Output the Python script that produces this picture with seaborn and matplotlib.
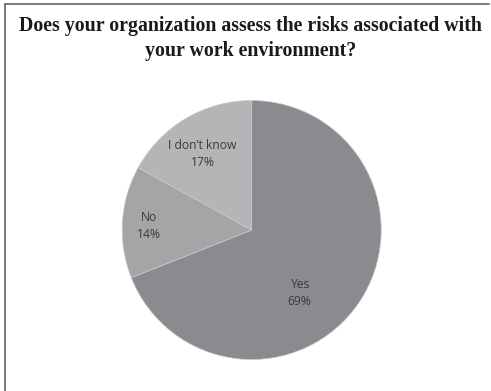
import matplotlib
matplotlib.use("Agg")
import matplotlib.pyplot as plt
from matplotlib.lines import Line2D
import seaborn as sns

sns.set_theme(style="white")

# Survey responses
categories = ["Yes", "No", "I don\u2019t know"]
shares = [69, 14, 17]
slice_colors = ["#8a8b8f", "#a5a5a8", "#b5b5b7"]

# Label anchor points inside the pie (axes data units)
label_xy = [(0.37, -0.49), (-0.79, 0.03), (-0.38, 0.59)]

W, H = 491, 391
fig = plt.figure(figsize=(W / 100, H / 100), dpi=100)
fig.patch.set_facecolor("white")

cx, cy, r = 251.7, 230.0, 129.5
ax = fig.add_axes([(cx - r) / W, (H - cy - r) / H, 2 * r / W, 2 * r / H])
wedges, _ = ax.pie(shares, colors=slice_colors, startangle=90, counterclock=False,
                   radius=1.0, wedgeprops=dict(edgecolor="#c8c8ca", linewidth=0.5))
ax.set_xlim(-1, 1)
ax.set_ylim(-1, 1)
ax.set_aspect("equal")
ax.axis("off")

for name, val, (x, y) in zip(categories, shares, label_xy):
    ax.text(x, y, f"{name}\n{val}%", ha="center", va="center", fontsize=8.7,
            family="Open Sans", color="#3a3a3a", linespacing=1.4)

fig.text(0.511, 1 - 38.5 / H, "Does your organization assess the risks associated with\nyour work environment?",
         ha="center", va="center", fontsize=14.3, fontweight="bold",
         family="Liberation Serif", color="#1a1a1a", linespacing=1.27)

# Frame lines along the top and left edges
fig.add_artist(Line2D([5 / W, 489 / W], [1 - 4 / H, 1 - 4 / H], color="#6e6e6e", linewidth=1.3,
                      transform=fig.transFigure))
fig.add_artist(Line2D([5 / W, 5 / W], [1 - 4 / H, 0], color="#6e6e6e", linewidth=1.3,
                      transform=fig.transFigure))

fig.savefig("out.png", dpi=100, facecolor="white")
